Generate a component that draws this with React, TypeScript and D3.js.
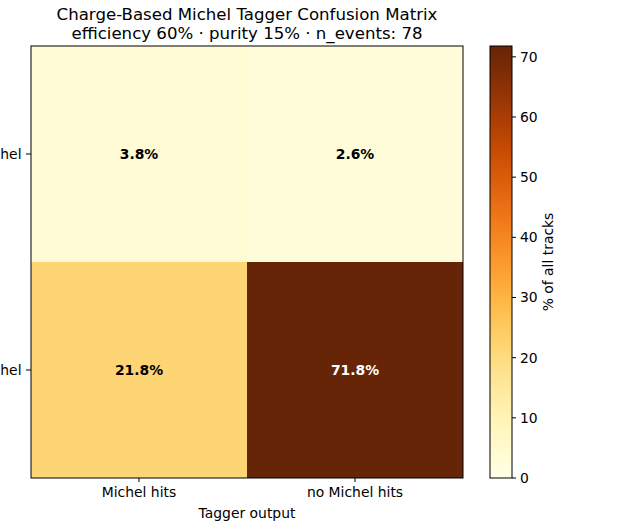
import React from "react";
import * as d3 from "d3";

const predLabels = ["Michel hits", "no Michel hits"];
const trueLabels = ["Michel", "no Michel"];
// rows: true label, cols: predicted
const cellValues = [
  [3.8, 2.6],
  [21.8, 71.8],
];
const cbTicks = [0, 10, 20, 30, 40, 50, 60, 70];
const titleLines = [
  "Charge-Based Michel Tagger Confusion Matrix",
  "efficiency 60% · purity 15% · n_events: 78",
];

export default function App() {
  const W = 638, H = 523;
  const left = 31, right = 463, top = 46, bottom = 478;
  const cbLeft = 490, cbRight = 512;
  const font = "DejaVu Sans, sans-serif";
  const fs = 13.9;
  const vmax = d3.max(cellValues.flat()) as number;
  const color = d3.scaleSequential(d3.interpolateYlOrBr).domain([0, vmax]);
  const x = d3.scaleBand<string>().domain(predLabels).range([left, right]);
  const y = d3.scaleBand<string>().domain(trueLabels).range([top, bottom]);
  const cb = d3.scaleLinear().domain([0, vmax]).range([bottom, top]);
  const stops = d3.range(0, 1.0001, 0.05);

  return (
    <svg width={W} height={H} style={{ position: "absolute", left: 0, top: 0, background: "#fff" }} fontFamily={font}>
      <defs>
        <linearGradient id="cbg" x1="0" y1="1" x2="0" y2="0">
          {stops.map((s) => (
            <stop key={s} offset={s} stopColor={color(s * vmax)} />
          ))}
        </linearGradient>
      </defs>
      {titleLines.map((t, i) => (
        <text key={i} x={(left + right) / 2} y={20 + i * 19} textAnchor="middle" fontSize={16.6} fill="#000">
          {t}
        </text>
      ))}
      {cellValues.map((row, i) =>
        row.map((v, j) => (
          <g key={`${i}-${j}`}>
            <rect x={x(predLabels[j])} y={y(trueLabels[i])} width={x.bandwidth()} height={y.bandwidth()} fill={color(v)} />
            <text
              x={(x(predLabels[j]) as number) + x.bandwidth() / 2}
              y={(y(trueLabels[i]) as number) + y.bandwidth() / 2}
              dy="0.35em"
              textAnchor="middle"
              fontSize={fs}
              fontWeight="bold"
              fill={v > vmax / 2 ? "#fff" : "#000"}
            >
              {v.toFixed(1)}%
            </text>
          </g>
        ))
      )}
      <rect x={left} y={top} width={right - left} height={bottom - top} fill="none" stroke="#000" strokeWidth={1} />
      {predLabels.map((p) => {
        const cx = (x(p) as number) + x.bandwidth() / 2;
        return (
          <g key={p}>
            <line x1={cx} x2={cx} y1={bottom} y2={bottom + 4} stroke="#000" />
            <text x={cx} y={bottom + 19} textAnchor="middle" fontSize={fs} fill="#000">
              {p}
            </text>
          </g>
        );
      })}
      {trueLabels.map((p) => {
        const cy = (y(p) as number) + y.bandwidth() / 2;
        return (
          <g key={p}>
            <line x1={left - 5} x2={left} y1={cy} y2={cy} stroke="#000" />
            <text x={left - 9.5} y={cy} dy="0.35em" textAnchor="end" fontSize={fs} fill="#000">
              {p}
            </text>
          </g>
        );
      })}
      <text x={(left + right) / 2} y={518} textAnchor="middle" fontSize={fs} fill="#000">
        Tagger output
      </text>
      <rect x={cbLeft} y={top} width={cbRight - cbLeft} height={bottom - top} fill="url(#cbg)" stroke="#000" strokeWidth={1} />
      {cbTicks.map((t) => (
        <g key={t}>
          <line x1={cbRight} x2={cbRight + 4} y1={cb(t)} y2={cb(t)} stroke="#000" />
          <text x={cbRight + 8} y={cb(t)} dy="0.35em" fontSize={fs} fill="#000">
            {t}
          </text>
        </g>
      ))}
      <text transform={`translate(553,${(top + bottom) / 2}) rotate(-90)`} textAnchor="middle" fontSize={fs} fill="#000">
        % of all tracks
      </text>
    </svg>
  );
}
